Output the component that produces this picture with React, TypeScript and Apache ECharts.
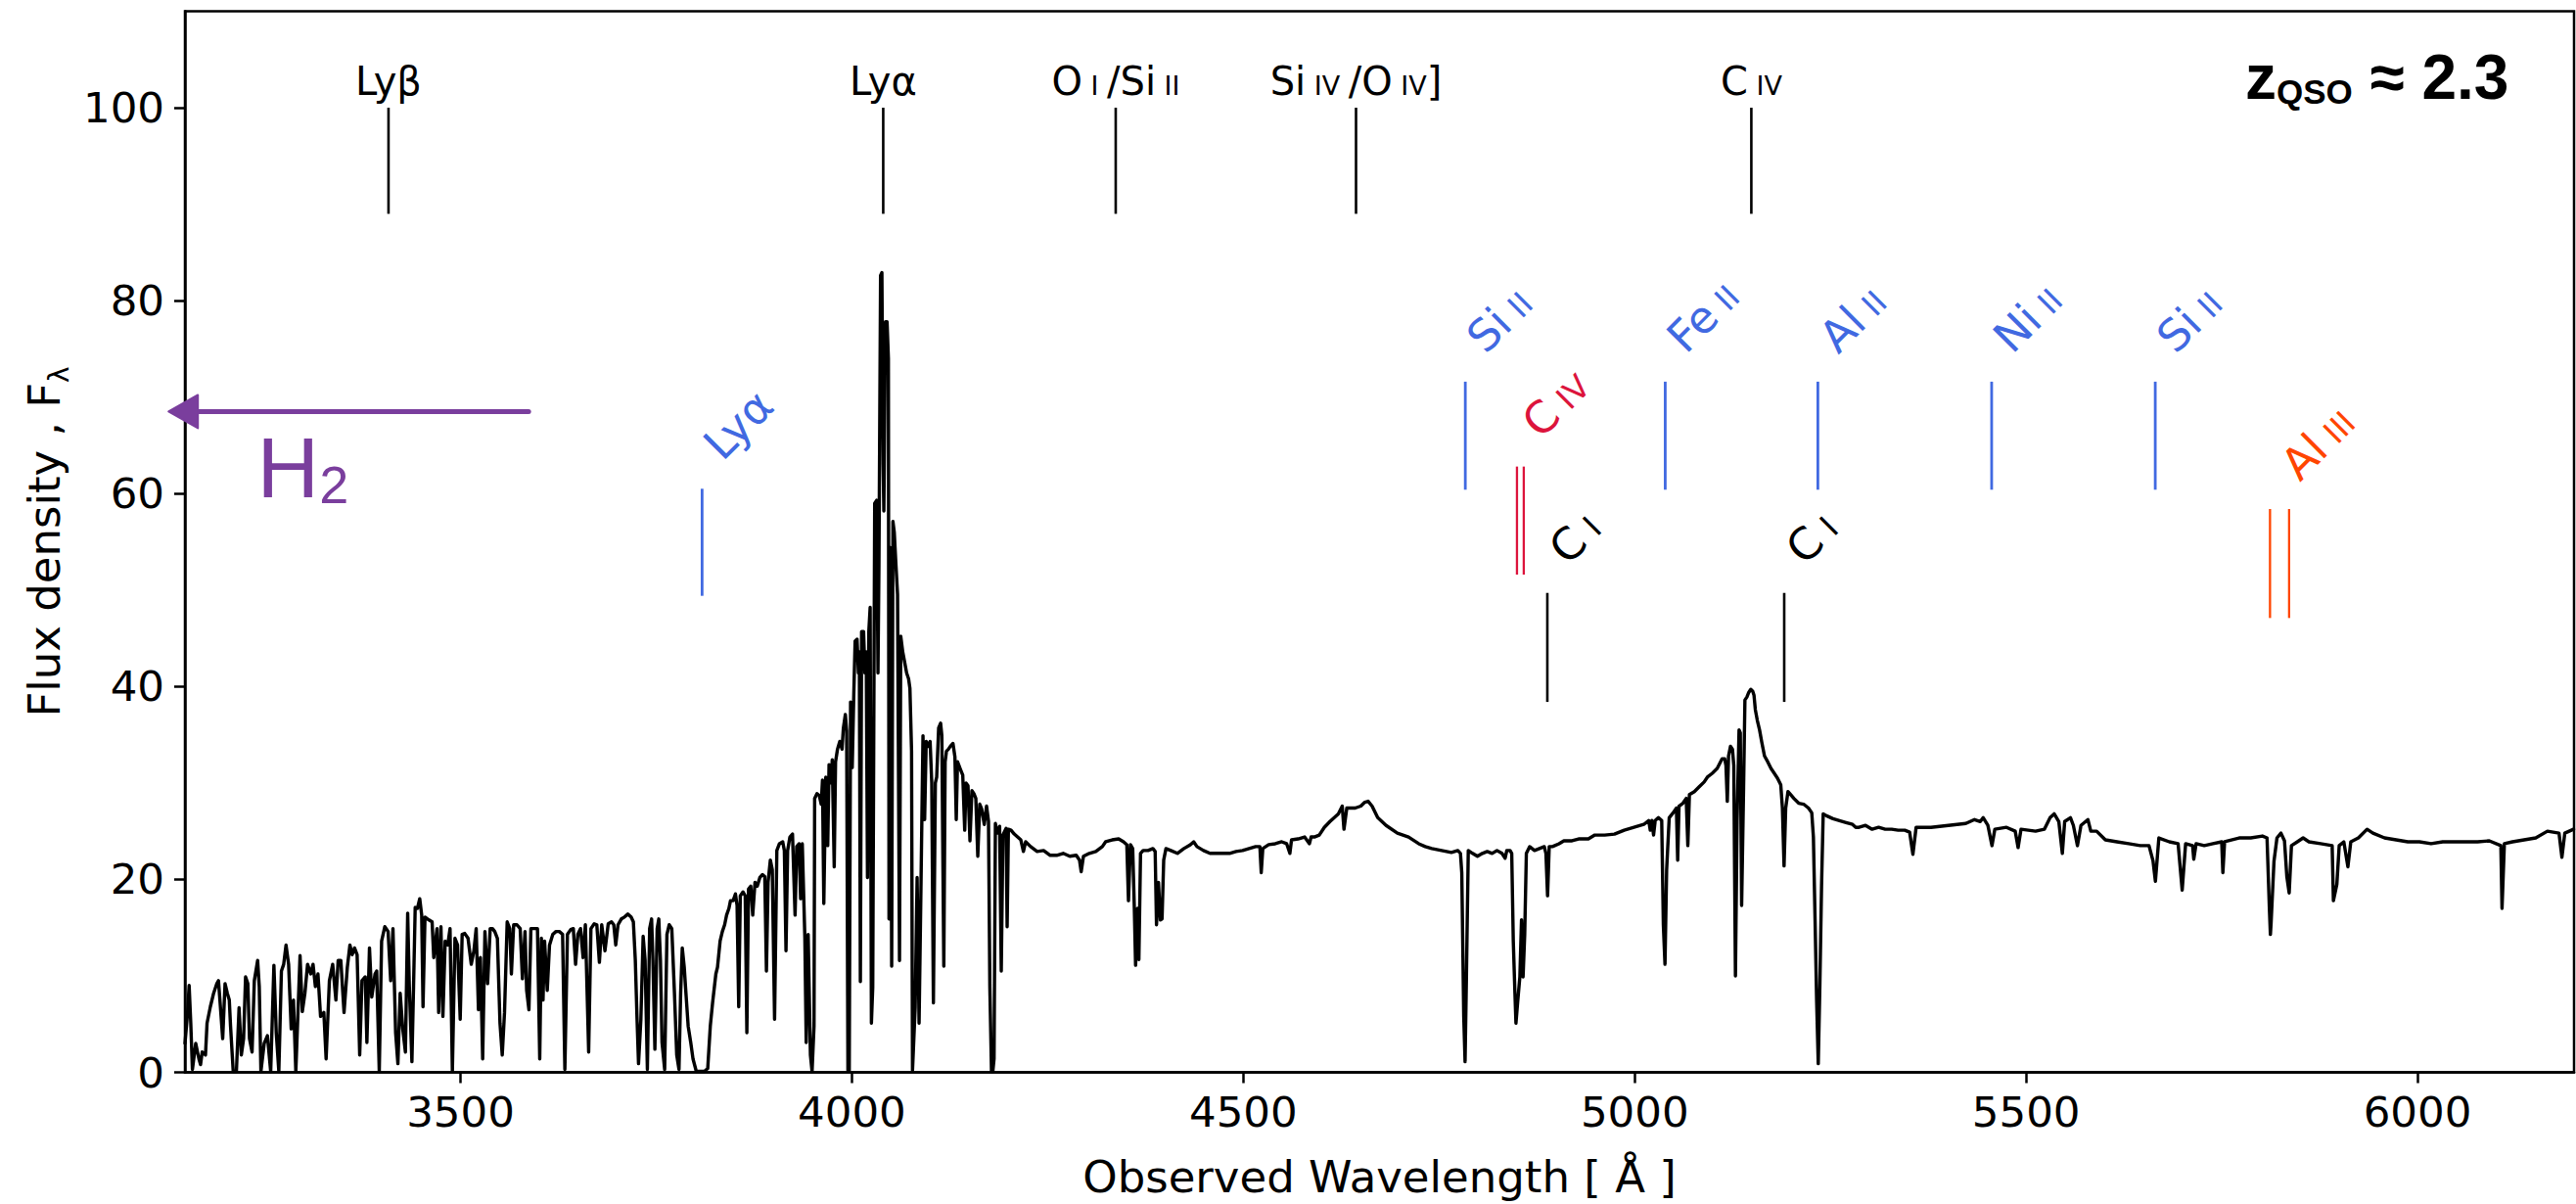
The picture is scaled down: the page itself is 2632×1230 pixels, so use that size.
import React, { useEffect, useRef } from "react";
import * as echarts from "echarts";

// ---------------- axes ----------------
const xRange = [3148, 6200];
const yRange = [0, 110];
const xTicks = [3500, 4000, 4500, 5000, 5500, 6000];
const yTicks = [0, 20, 40, 60, 80, 100];
const xTitle = "Observed Wavelength [ Å ]";
const yTitle = "{n|Flux density , F}{s|λ}";

// ---------------- spectrum (wavelength Å, flux) ----------------
const forestA = [
  [3148, 3.0], [3151.2, 6.0], [3153.3, 9.0], [3155.4, 5.1], [3157.5, 0.3], [3161.7, 3.0], [3165.8, 1.4], [3167.9, 0.8],
  [3170.0, 2.1], [3174.2, 1.8], [3176.2, 5.1], [3180.4, 6.8], [3184.6, 8.2], [3188.7, 9.2], [3190.8, 9.5], [3192.9, 7.2],
  [3196.2, 3.5], [3199.2, 9.2], [3202.1, 8.2], [3204.6, 7.5], [3206.2, 4.8], [3209.6, 0.1], [3213.7, 0.1], [3217.1, 6.7],
  [3220.0, 1.8], [3222.9, 3.5], [3225.4, 9.9], [3228.3, 9.2], [3230.4, 3.5], [3233.7, 2.1], [3236.6, 9.5], [3240.8, 11.6],
  [3242.9, 8.9], [3245.0, 0.1], [3249.2, 3.0], [3253.3, 3.8], [3257.5, 0.1], [3261.6, 11.1], [3264.6, 4.1], [3267.9, 0.1],
  [3271.2, 10.5], [3274.1, 11.2], [3277.1, 13.2], [3280.4, 11.2], [3283.7, 4.5], [3286.6, 7.5], [3289.6, 0.1], [3295.0, 12.1],
  [3297.9, 6.3], [3301.2, 8.2], [3304.6, 11.2], [3308.7, 10.2], [3311.6, 11.2], [3314.6, 8.9], [3317.9, 10.2], [3321.2, 5.8],
  [3325.4, 6.2], [3328.3, 1.4], [3332.5, 9.5], [3336.7, 11.2], [3340.8, 7.5], [3343.7, 11.6], [3347.1, 11.6], [3351.2, 6.2],
  [3355.4, 10.9], [3358.7, 13.2], [3361.6, 12.2], [3364.6, 12.9], [3367.9, 12.2], [3371.2, 1.8], [3374.1, 9.5], [3378.3, 9.9],
  [3380.4, 3.1], [3383.7, 12.9], [3386.6, 7.8], [3390.8, 10.2], [3392.9, 10.5], [3396.2, 0.1],
];
const forestB = [
  [3399.2, 13.6], [3403.3, 15.1], [3407.5, 14.6], [3410.8, 9.5], [3413.7, 14.9], [3417.1, 4.1], [3420.0, 0.9], [3422.9, 8.2],
  [3426.2, 4.5], [3429.6, 2.1], [3432.5, 16.5], [3434.6, 8.9], [3437.9, 1.1], [3440.0, 8.9], [3442.1, 17.1], [3445.0, 17.0],
  [3447.9, 18.0], [3450.4, 16.3], [3452.1, 6.8], [3454.6, 16.1], [3459.6, 15.8], [3463.7, 15.6], [3465.8, 11.9], [3470.0, 14.9],
  [3472.1, 6.2], [3475.0, 15.1], [3477.5, 5.8], [3480.4, 13.6], [3483.7, 13.2], [3486.6, 14.9], [3489.6, 0.1], [3492.9, 13.9],
  [3496.2, 13.2], [3499.6, 5.5], [3502.1, 14.3], [3505.4, 14.4], [3509.6, 13.9], [3513.7, 11.2], [3517.1, 12.6], [3520.0, 14.9],
  [3522.9, 6.5], [3525.4, 11.9], [3528.3, 1.4], [3531.2, 14.6], [3534.6, 9.2], [3537.9, 14.9], [3540.8, 14.9], [3543.7, 14.6],
  [3547.1, 13.9], [3550.4, 5.1], [3553.3, 1.8], [3556.2, 6.2], [3559.6, 15.6], [3562.9, 14.9], [3565.0, 10.2], [3567.9, 15.3],
  [3572.1, 15.3], [3576.2, 14.9],
];
const forestC = [
  [3579.1, 9.7], [3582.4, 14.6], [3584.5, 8.5], [3587.4, 6.5], [3589.9, 14.9], [3594.1, 14.9], [3598.3, 14.9], [3601.2, 1.4],
  [3603.3, 13.9], [3605.4, 7.5], [3607.4, 13.6], [3610.8, 8.5], [3613.7, 13.2], [3617.9, 14.3], [3622.0, 14.6], [3626.2, 14.6],
  [3630.4, 14.3], [3633.3, 0.3], [3636.6, 14.3], [3640.8, 14.8], [3644.1, 14.9], [3647.0, 11.2], [3649.9, 14.3], [3653.3, 14.9],
  [3656.6, 11.9], [3659.5, 15.3], [3663.7, 2.1], [3666.6, 14.9], [3670.8, 15.4], [3674.1, 15.3], [3677.4, 11.4], [3680.4, 15.3],
  [3684.5, 12.6], [3688.7, 15.4], [3692.9, 15.6], [3695.8, 15.3], [3698.3, 13.2], [3701.2, 15.3], [3705.4, 15.9], [3709.5, 16.1],
  [3713.7, 16.4], [3717.9, 16.1], [3720.8, 15.6], [3723.3, 11.6], [3725.4, 5.8], [3727.4, 0.9], [3730.4, 5.5], [3733.3, 14.1],
  [3735.8, 11.6], [3738.7, 0.3], [3741.6, 14.9], [3744.1, 15.9], [3745.8, 11.6], [3748.3, 2.4], [3751.2, 14.9], [3753.3, 15.9],
  [3755.4, 11.6], [3757.4, 3.1], [3760.8, 0.3], [3763.7, 14.3], [3766.6, 15.3], [3769.9, 14.9], [3773.3, 8.2], [3776.2, 1.8],
  [3779.1, 0.3], [3781.2, 8.2], [3783.3, 12.9], [3785.8, 10.9], [3787.4, 8.9], [3790.8, 4.8], [3794.1, 3.1], [3797.0, 1.4],
  [3801.2, 0.1], [3811.6, 0.1], [3815.8, 0.4],
];
const forestD = [
  [3819.1, 4.8], [3822.0, 7.2], [3826.2, 10.2], [3828.3, 10.9], [3831.6, 13.6], [3834.5, 14.6], [3837.4, 15.3], [3839.9, 16.3],
  [3842.9, 17.0], [3844.9, 17.8], [3848.3, 17.8], [3851.2, 18.5], [3853.3, 17.3], [3855.4, 6.8], [3857.4, 18.3], [3860.8, 18.7],
  [3863.7, 18.3], [3865.8, 4.1], [3867.9, 19.0], [3870.8, 19.3], [3873.3, 16.3], [3876.2, 19.7], [3879.1, 19.3], [3882.4, 20.2],
  [3885.8, 20.5], [3888.7, 20.3], [3890.8, 10.5], [3892.9, 19.7], [3895.8, 22.0], [3898.3, 21.0], [3901.2, 5.5], [3904.1, 23.0],
  [3907.4, 23.7], [3911.6, 23.9], [3913.7, 23.0], [3915.8, 12.6], [3917.9, 23.0], [3920.8, 24.4], [3924.1, 24.7], [3927.4, 16.3],
  [3929.5, 23.4], [3932.4, 23.7], [3934.5, 18.0], [3936.6, 23.7], [3939.9, 13.9], [3941.6, 3.1], [3944.1, 14.3], [3947.0, 1.8],
  [3949.1, 0.1], [3951.6, 4.8],
];
const lyaEmission = [
  [3952.4, 28.4], [3955.4, 28.9], [3958.3, 28.7], [3960.8, 27.8], [3962.4, 30.3], [3964.1, 17.5], [3966.6, 30.6], [3969.1, 23.5],
  [3970.8, 31.9], [3973.3, 30.0], [3974.9, 32.4], [3977.4, 21.3], [3979.1, 32.2], [3981.6, 33.5], [3984.5, 34.3], [3987.4, 33.5],
  [3989.1, 35.7], [3991.6, 37.1], [3993.3, 35.4], [3994.9, 0.2], [3996.6, 0.2], [3998.3, 38.4], [4000.4, 31.6], [4002.4, 39.2],
  [4004.1, 44.7], [4006.6, 44.9], [4008.3, 41.4], [4009.5, 43.6], [4010.8, 9.4], [4012.4, 45.7], [4014.9, 45.7], [4016.6, 41.4],
  [4018.3, 43.6], [4019.9, 20.2], [4021.6, 45.7], [4023.3, 48.2], [4024.9, 5.1], [4026.6, 8.8], [4029.1, 59.0], [4031.6, 59.3],
  [4033.3, 41.4], [4034.5, 52.3], [4036.6, 82.6], [4038.3, 82.9], [4039.9, 63.1], [4040.8, 58.2], [4042.9, 77.8], [4044.9, 77.8],
  [4046.6, 74.0], [4047.4, 15.9], [4049.1, 54.4], [4050.8, 11.0], [4052.4, 57.1], [4054.1, 56.0], [4055.8, 53.3], [4058.3, 49.5],
  [4060.8, 11.6], [4062.4, 45.2], [4064.9, 43.6], [4067.4, 42.5], [4069.9, 41.4], [4072.4, 40.8], [4074.1, 39.8], [4076.2, 33.3],
  [4077.4, 0.2], [4080.8, 6.7], [4083.3, 20.2], [4085.8, 5.1], [4088.3, 19.7], [4090.8, 34.9], [4092.9, 26.2], [4094.9, 34.3],
  [4097.4, 33.8], [4099.9, 34.3], [4102.0, 30.0], [4104.1, 7.2], [4106.6, 30.0], [4108.3, 30.6], [4110.8, 35.7], [4113.3, 36.2],
  [4114.9, 34.9], [4117.4, 11.0], [4119.1, 32.2], [4120.8, 33.3], [4123.3, 33.5], [4125.8, 33.8], [4129.1, 34.1], [4131.6, 32.7],
  [4133.3, 26.2], [4134.9, 32.2], [4138.7, 31.4], [4141.6, 30.8], [4144.1, 25.1], [4145.8, 30.0], [4148.3, 29.7], [4150.8, 24.0],
  [4153.3, 29.2], [4155.8, 28.9], [4158.3, 28.4], [4160.8, 22.4], [4163.3, 27.8], [4165.8, 27.3], [4169.1, 25.7], [4172.0, 27.6],
];
const continuumA = [
  [4174.5, 26.0], [4176.2, 8.9], [4178.3, 0.1], [4180.0, 0.1], [4181.6, 1.4], [4183.3, 25.8], [4185.8, 24.8], [4188.7, 25.5],
  [4190.8, 10.5], [4192.9, 24.6], [4197.0, 25.3], [4198.3, 15.1], [4199.9, 25.2], [4203.3, 25.1], [4207.4, 24.7], [4215.8, 24.1],
  [4219.1, 22.9], [4222.0, 23.9], [4228.3, 23.4], [4236.6, 22.9], [4244.9, 23.0], [4253.3, 22.5], [4261.6, 22.5], [4269.9, 22.7],
  [4278.3, 22.4], [4286.6, 22.5], [4290.8, 22.0], [4292.9, 20.8], [4295.8, 22.4], [4303.3, 22.7], [4311.6, 22.9], [4319.9, 23.4],
  [4324.1, 23.9], [4332.4, 24.1], [4340.8, 24.2], [4347.0, 23.9], [4351.2, 23.6], [4353.3, 17.8], [4355.8, 23.6], [4358.7, 23.2],
  [4360.8, 17.0], [4362.4, 11.1], [4364.9, 17.0], [4366.6, 11.7], [4368.7, 22.7], [4372.0, 23.0], [4378.3, 23.0], [4384.5, 23.2],
  [4387.4, 22.9], [4389.1, 15.3], [4391.6, 19.7], [4394.1, 15.8], [4396.2, 15.9], [4398.3, 22.0], [4401.2, 23.2], [4407.4, 23.0],
  [4415.8, 22.7], [4424.1, 23.2], [4432.4, 23.6], [4436.6, 23.9], [4440.8, 23.4], [4449.1, 23.0], [4457.4, 22.7], [4465.8, 22.7],
  [4474.1, 22.7], [4482.4, 22.7], [4490.8, 22.9], [4499.1, 23.0], [4507.4, 23.2], [4515.8, 23.4], [4521.2, 23.4], [4522.9, 20.7],
  [4524.9, 23.2], [4532.4, 23.6], [4540.8, 23.7], [4549.1, 23.9], [4555.4, 23.7], [4559.5, 22.7], [4561.6, 24.1], [4569.9, 24.2],
  [4578.3, 24.4], [4584.5, 23.7], [4586.6, 24.4], [4590.8, 24.4], [4597.0, 24.6],
];
const siivBump = [
  [4603.5, 25.4], [4610.7, 26.0], [4621.4, 26.8], [4626.4, 27.6], [4628.6, 25.2], [4632.2, 27.4], [4643.0, 27.4], [4650.1, 27.6],
  [4655.2, 28.0], [4659.5, 28.1], [4664.5, 27.6], [4671.7, 26.4], [4682.4, 25.6], [4696.8, 24.8], [4711.1, 24.4], [4724.1, 23.7],
  [4732.4, 23.4], [4740.8, 23.2], [4753.3, 23.0], [4765.8, 22.8], [4774.1, 23.0],
];
const civRegion = [
  [4777.4, 22.7], [4779.1, 20.7], [4781.6, 5.8], [4783.3, 1.1], [4784.9, 9.2], [4787.4, 23.0], [4792.9, 22.7], [4799.1, 22.4],
  [4805.4, 22.7], [4811.6, 22.9], [4817.9, 22.7], [4824.1, 23.0], [4830.4, 22.7], [4834.5, 22.2], [4836.6, 23.0], [4840.8, 23.0],
  [4842.9, 22.7], [4844.9, 13.6], [4847.0, 8.2], [4848.3, 5.1], [4850.4, 7.2], [4853.3, 9.9], [4855.4, 15.8], [4857.4, 9.9],
  [4859.5, 14.3], [4861.6, 22.7], [4865.8, 23.4], [4872.0, 23.0], [4878.3, 23.2], [4884.5, 23.4], [4886.6, 22.7], [4888.7, 18.3],
  [4890.8, 23.4], [4894.9, 23.4], [4903.3, 23.7], [4909.5, 24.0], [4919.9, 24.0], [4928.3, 24.2], [4940.8, 24.2], [4949.1, 24.6],
  [4961.6, 24.6], [4974.1, 24.7], [4986.6, 25.1], [4999.1, 25.4], [5011.6, 25.7], [5017.9, 26.1], [5019.9, 25.1], [5022.0, 26.1],
  [5024.1, 24.6], [5026.2, 26.1], [5030.3, 26.4], [5034.5, 26.1], [5036.6, 15.3], [5038.7, 11.2], [5040.8, 21.0], [5044.1, 26.4],
  [5049.1, 26.9], [5053.3, 27.4], [5054.9, 22.0], [5056.6, 27.6], [5061.6, 27.9], [5065.8, 28.4], [5067.9, 23.5], [5069.9, 28.8],
  [5076.2, 29.1], [5082.4, 29.6], [5088.7, 30.1], [5092.8, 30.6], [5099.1, 31.0], [5105.4, 31.5], [5111.6, 32.5], [5115.0, 32.5],
  [5116.6, 31.8], [5118.3, 28.1], [5119.9, 32.8], [5122.4, 33.8], [5124.9, 33.5], [5126.6, 31.8], [5128.7, 10.0], [5130.8, 26.1],
  [5133.3, 35.5], [5134.9, 35.2], [5136.6, 17.3], [5139.1, 29.5], [5140.8, 38.6], [5143.3, 38.9], [5145.8, 39.4], [5148.3, 39.7],
  [5150.8, 39.5], [5152.4, 39.1], [5154.1, 37.6], [5156.6, 36.5], [5159.5, 35.5], [5162.4, 34.2], [5165.8, 32.8], [5169.9, 32.2],
  [5174.1, 31.5], [5178.3, 31.0], [5182.4, 30.5], [5186.6, 29.8], [5188.7, 27.4], [5190.8, 21.4], [5192.9, 27.4], [5195.8, 29.1],
  [5199.1, 28.8], [5203.3, 28.4], [5209.5, 27.9], [5215.8, 27.8], [5222.0, 27.4], [5226.2, 26.9], [5228.3, 24.4], [5230.4, 15.9],
  [5232.4, 7.5], [5234.5, 0.9], [5236.6, 9.2], [5238.7, 19.3], [5240.8, 26.8], [5245.0, 26.6], [5253.3, 26.3], [5261.6, 26.1],
  [5270.0, 25.9], [5278.3, 25.7], [5282.4, 25.4], [5286.6, 25.4], [5294.9, 25.6], [5303.3, 25.2], [5311.6, 25.4], [5320.0, 25.2],
  [5328.3, 25.2], [5336.6, 25.1], [5345.0, 25.1], [5351.2, 24.9], [5355.4, 22.6], [5359.5, 25.4],
];
const redTail = [
  [5378.4, 25.4], [5400.7, 25.6], [5423.0, 25.8], [5434.1, 26.2], [5441.5, 26.0], [5445.2, 26.4], [5451.2, 25.6], [5456.4, 23.5],
  [5460.1, 25.2], [5475.0, 25.4], [5486.1, 25.0], [5489.8, 23.3], [5493.5, 25.2], [5512.1, 25.0], [5523.3, 25.2], [5530.7, 26.4],
  [5535.9, 26.8], [5541.8, 26.0], [5546.3, 22.7], [5549.3, 26.0], [5556.7, 26.4], [5560.4, 25.6], [5565.6, 23.5], [5570.1, 25.6],
  [5579.0, 26.2], [5582.7, 25.0], [5590.1, 25.0], [5601.3, 24.1], [5616.1, 23.9], [5631.0, 23.7], [5645.9, 23.5], [5657.0, 23.5],
  [5662.2, 21.9], [5665.2, 19.8], [5669.6, 24.3], [5683.0, 23.9], [5694.2, 23.7], [5699.4, 18.9], [5703.8, 23.7], [5712.7, 23.5],
  [5714.2, 22.1], [5717.2, 23.7], [5727.6, 23.5], [5738.7, 23.7], [5749.9, 23.9], [5751.4, 20.7], [5753.6, 23.9], [5772.2, 24.3],
  [5787.0, 24.3], [5801.9, 24.5], [5807.8, 24.3], [5810.8, 17.0], [5812.1, 14.3], [5813.0, 15.5], [5816.7, 21.9], [5820.5, 24.3],
  [5825.6, 24.8], [5830.1, 24.0], [5833.1, 20.3], [5836.1, 18.6], [5839.0, 23.5], [5846.5, 23.9], [5853.9, 24.3], [5861.3, 23.9],
  [5876.2, 23.7], [5891.0, 23.5], [5892.6, 17.8], [5897.0, 19.5], [5900.0, 23.5], [5905.9, 23.9], [5911.1, 21.3], [5914.8, 23.9],
  [5924.5, 24.3], [5935.6, 25.2], [5943.1, 24.8], [5957.9, 24.3], [5972.8, 24.1], [5987.7, 23.9], [6002.5, 23.9], [6017.4, 23.7],
  [6032.2, 23.9], [6047.1, 23.9], [6062.0, 23.9], [6076.8, 23.9], [6091.7, 24.0], [6106.5, 23.5], [6108.0, 17.0], [6111.0, 23.7],
  [6121.4, 23.9], [6136.2, 24.1], [6151.1, 24.3], [6166.0, 25.0], [6180.8, 24.8], [6184.5, 22.3], [6188.2, 24.8], [6199.4, 25.2],
];
const spectrum = [
  ...forestA, ...forestB, ...forestC, ...forestD, ...lyaEmission, ...continuumA, ...siivBump, ...civRegion, ...redTail,
];

// ---------------- quasar emission lines (top, black) ----------------
const emissionWave = [3408, 4040, 4337, 4644, 5149];
const emissionFlux = [89, 100];
const emissionText = [
  "{n|Lyβ}",
  "{n|Lyα}",
  "{n|O}{r| I }{n|/Si}{r| II}",
  "{n|Si}{r| IV }{n|/O}{r| IV}{n|]}",
  "{n|C}{r| IV}",
];

// ---------------- absorber lines ----------------
const lyaAbsWave = [3808.6];
const lyaAbsFlux = [49.4, 60.5];
const lyaAbsText = ["{n|Lyα}"];

const lowIonWave = [4783.6, 5039, 5234, 5456, 5665];
const lowIonFlux = [60.4, 71.6];
const lowIonText = ["{n|Si}{r| II}", "{n|Fe}{r| II}", "{n|Al}{r| II}", "{n|Ni}{r| II}", "{n|Si}{r| II}"];

const civAbsWave = [4849.6, 4858.3];
const civAbsFlux = [51.6, 62.8];
const civAbsText = ["{n|C}{r| IV}"];

const ciAbsWave = [4888.4, 5191];
const ciAbsFlux = [38.4, 49.7];
const ciAbsText = ["{n|C}{r| I}", "{n|C}{r| I}"];

const aliiiAbsWave = [5811.6, 5836];
const aliiiAbsFlux = [47.1, 58.4];
const aliiiAbsText = ["{n|Al}{r| III}"];

// ---------------- H2 arrow ----------------
const h2ArrowWave = [3587, 3127]; // tail, tip
const h2ArrowFlux = [68.5];
const h2LabelAt = [3240, 59.6];
const h2Text = "{h|H}{s|2}";

const qsoText = "{a|z}{b|QSO}{a| ≈ 2.3}";

// ---------------- styles ----------------
const FONT = "DejaVu Sans";
const SANS = "Liberation Sans";
const BLACK = "#000000";
const BLUE = "#4169e1";
const RED = "#dc143c";
const ORANGE = "#ff4500";
const PURPLE = "#7a3e9d";

function ionRich(color: string, big: number, small: number) {
  const lift = Math.max(1, Math.round(0.154 * (big - small)));
  return {
    n: { fontFamily: FONT, fontSize: big, lineHeight: big, fill: color, color, verticalAlign: "bottom" },
    r: {
      fontFamily: FONT,
      fontSize: small,
      lineHeight: small,
      fill: color,
      color,
      verticalAlign: "bottom",
      padding: [0, 0, lift, 0],
    },
  };
}

function markerSeries(
  name: string,
  items: number[][],
  texts: string[],
  color: string,
  mode: "top" | "rot",
  lineWidth: number
) {
  const big = mode === "top" ? 40 : 45;
  const small = mode === "top" ? 27 : 33;
  const rich = ionRich(color, big, small);
  return {
    type: "custom",
    name,
    clip: false,
    silent: true,
    z: 5,
    data: items,
    encode: { x: [0, 1], y: [2, 3] },
    renderItem: (params: any, api: any) => {
      const x1 = api.value(0);
      const x2 = api.value(1);
      const lo = api.value(2);
      const hi = api.value(3);
      const a1 = api.coord([x1, hi]);
      const b1 = api.coord([x1, lo]);
      const a2 = api.coord([x2, hi]);
      const b2 = api.coord([x2, lo]);
      const children: any[] = [
        { type: "line", shape: { x1: a1[0], y1: a1[1], x2: b1[0], y2: b1[1] }, style: { stroke: color, lineWidth } },
      ];
      if (x2 !== x1) {
        children.push({
          type: "line",
          shape: { x1: a2[0], y1: a2[1], x2: b2[0], y2: b2[1] },
          style: { stroke: color, lineWidth },
        });
      }
      const cx = (a1[0] + a2[0]) / 2;
      const top = a1[1];
      const text = texts[params.dataIndex];
      if (mode === "top") {
        children.push({
          type: "text",
          x: cx,
          y: top - 27,
          style: { text, rich, fontFamily: FONT, fontSize: big, fill: color, align: "center", verticalAlign: "middle" },
        });
      } else {
        const off = 0.346 * big * Math.SQRT1_2;
        children.push({
          type: "text",
          x: cx + 21 - off,
          y: top - 27 - off,
          rotation: Math.PI / 4,
          style: { text, rich, fontFamily: FONT, fontSize: big, fill: color, align: "left", verticalAlign: "middle" },
        });
      }
      return { type: "group", children };
    },
  };
}

const single = (waves: number[], flux: number[]) => waves.map((w) => [w, w, flux[0], flux[1]]);
const pair = (waves: number[], flux: number[]) => [[waves[0], waves[1], flux[0], flux[1]]];

const h2Series = {
  type: "custom",
  name: "H2",
  clip: false,
  silent: true,
  z: 6,
  data: [[h2ArrowWave[0], h2ArrowWave[1], h2ArrowFlux[0], h2LabelAt[0], h2LabelAt[1]]],
  encode: { x: [0, 1, 3], y: [2, 4] },
  renderItem: (_params: any, api: any) => {
    const tail = api.coord([api.value(0), api.value(2)]);
    const tip = api.coord([api.value(1), api.value(2)]);
    const lab = api.coord([api.value(3), api.value(4)]);
    const headLen = 30;
    const headHalf = 17;
    const hSize = 88;
    return {
      type: "group",
      children: [
        {
          type: "line",
          shape: { x1: tail[0], y1: tail[1], x2: tip[0] + headLen - 4, y2: tip[1] },
          style: { stroke: PURPLE, lineWidth: 5, lineCap: "round" },
        },
        {
          type: "polygon",
          shape: {
            points: [
              [tip[0], tip[1]],
              [tip[0] + headLen, tip[1] - headHalf],
              [tip[0] + headLen, tip[1] + headHalf],
            ],
          },
          style: { fill: PURPLE, stroke: PURPLE, lineWidth: 2, lineJoin: "round" },
        },
        {
          type: "text",
          x: lab[0],
          y: lab[1] - 0.3465 * hSize,
          style: {
            text: h2Text,
            fontFamily: SANS,
            fontSize: hSize,
            fill: PURPLE,
            align: "left",
            verticalAlign: "middle",
            rich: {
              h: { fontFamily: SANS, fontSize: hSize, lineHeight: hSize, fill: PURPLE, color: PURPLE, verticalAlign: "bottom" },
              s: { fontFamily: SANS, fontSize: 54, lineHeight: 54, fill: PURPLE, color: PURPLE, verticalAlign: "bottom" },
            },
          },
        },
      ],
    };
  },
};

const option = {
  animation: false,
  backgroundColor: "#ffffff",
  textStyle: { fontFamily: FONT },
  grid: {
    left: 189,
    right: 2,
    top: 11.5,
    bottom: 132.5,
    show: true,
    borderColor: BLACK,
    borderWidth: 2.5,
    backgroundColor: "transparent",
  },
  xAxis: {
    type: "value",
    min: xRange[0],
    max: xRange[1],
    name: xTitle,
    nameLocation: "middle",
    nameGap: 84.5,
    nameTextStyle: { fontFamily: FONT, fontSize: 45, color: BLACK },
    axisLine: { show: true, onZero: false, lineStyle: { color: BLACK, width: 2.5 } },
    axisTick: { show: true, inside: false, length: 11, lineStyle: { color: BLACK, width: 2.5 }, customValues: xTicks },
    axisLabel: {
      fontFamily: FONT,
      fontSize: 43.5,
      color: BLACK,
      margin: 18.5,
      customValues: xTicks,
      formatter: (v: number) => String(v),
    },
    splitLine: { show: false },
  },
  yAxis: {
    type: "value",
    min: yRange[0],
    max: yRange[1],
    name: yTitle,
    nameLocation: "middle",
    nameGap: 115,
    nameTextStyle: {
      fontFamily: FONT,
      fontSize: 45,
      color: BLACK,
      rich: {
        n: { fontFamily: FONT, fontSize: 45, color: BLACK, verticalAlign: "bottom", padding: [0, 0, 6, 0] },
        s: { fontFamily: FONT, fontSize: 28, color: BLACK, verticalAlign: "bottom" },
      },
    },
    axisLine: { show: true, onZero: false, lineStyle: { color: BLACK, width: 2.5 } },
    axisTick: { show: true, inside: false, length: 11, lineStyle: { color: BLACK, width: 2.5 }, customValues: yTicks },
    axisLabel: {
      fontFamily: FONT,
      fontSize: 43.5,
      color: BLACK,
      margin: 21,
      customValues: yTicks,
      formatter: (v: number) => String(v),
    },
    splitLine: { show: false },
  },
  graphic: [
    {
      type: "text",
      x: 2294,
      y: 79,
      z: 10,
      style: {
        text: qsoText,
        fontFamily: SANS,
        fontSize: 64,
        fontWeight: "bold",
        fill: BLACK,
        align: "left",
        verticalAlign: "middle",
        rich: {
          a: { fontFamily: SANS, fontWeight: "bold", fontSize: 64, fill: BLACK, color: BLACK, verticalAlign: "bottom" },
          b: { fontFamily: SANS, fontWeight: "bold", fontSize: 35, fill: BLACK, color: BLACK, verticalAlign: "bottom" },
        },
      },
    },
  ],
  series: [
    {
      type: "line",
      name: "spectrum",
      data: spectrum,
      showSymbol: false,
      symbol: "none",
      silent: true,
      lineStyle: { color: BLACK, width: 3.4, join: "round", cap: "round" },
      z: 3,
    },
    markerSeries("emission", single(emissionWave, emissionFlux), emissionText, BLACK, "top", 2.6),
    markerSeries("LyaAbs", single(lyaAbsWave, lyaAbsFlux), lyaAbsText, BLUE, "rot", 2.8),
    markerSeries("lowIons", single(lowIonWave, lowIonFlux), lowIonText, BLUE, "rot", 2.8),
    markerSeries("CIV", pair(civAbsWave, civAbsFlux), civAbsText, RED, "rot", 2.3),
    markerSeries("CI", single(ciAbsWave, ciAbsFlux), ciAbsText, BLACK, "rot", 2.6),
    markerSeries("AlIII", pair(aliiiAbsWave, aliiiAbsFlux), aliiiAbsText, ORANGE, "rot", 2.3),
    h2Series,
  ],
};

export default function App() {
  const ref = useRef<HTMLDivElement>(null);
  useEffect(() => {
    if (!ref.current) return;
    const chart = echarts.init(ref.current, null, { renderer: "svg" });
    chart.setOption(option as any);
    return () => chart.dispose();
  }, []);
  return (
    <div
      ref={ref}
      style={{ position: "fixed", left: 0, top: 0, width: 2632, height: 1230, background: "#ffffff" }}
    />
  );
}
